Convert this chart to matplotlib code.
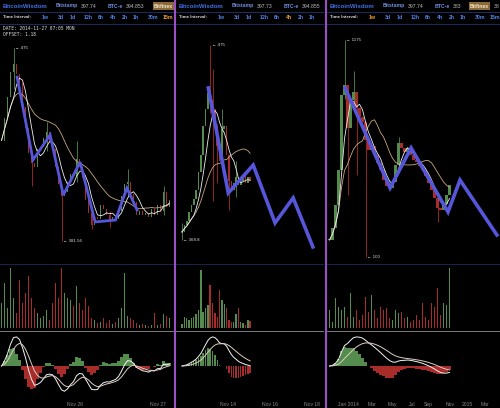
import numpy as np
import pandas as pd
import matplotlib
matplotlib.use('Agg')
import matplotlib.pyplot as plt

W, H = 500, 408

# ---- left panel: 15m candles ----
p1_close = [430, 441, 451, 463, 467, 462, 458, 446, 436, 424, 419, 417, 426, 427, 431, 434, 429, 426, 417, 409,
            403, 405, 410, 414, 413, 421, 417, 412, 401, 395, 389, 393, 392, 399, 397, 394, 391, 393, 392, 396,
            403, 409, 410, 404, 400, 394, 396, 394, 395, 393, 397, 394, 399, 396, 405, 398, 401]
p1_vol = [25, 45, 20, 60, 30, 15, 48, 25, 35, 52, 30, 20, 15, 10, 12, 18, 8, 25, 45, 30,
          60, 35, 30, 28, 22, 42, 25, 18, 30, 22, 10, 8, 5, 6, 10, 5, 8, 4, 6, 10,
          20, 55, 12, 10, 8, 5, 3, 4, 3, 2, 3, 15, 3, 4, 14, 12, 10]
p1_wick_idx = [4, 10, 15, 20, 25, 30, 36, 42, 54]
p1_wick_lo = [455, 408, 425, 381.56, 410, 387, 388, 403, 394]
p1_wick_hi = [475, 422, 439, 406, 430, 397, 396, 416, 408]
p1_zig_x = [5.2, 10.5, 16.2, 20.6, 26.2, 31.2, 38.0, 41.8, 45.2]
p1_zig_y = [460.7, 420.6, 432.7, 403.6, 419.6, 390.6, 391.5, 407.0, 396.4]
p1_ticks = [24.5, 52.2]
p1_ticklabels = ['Nov 26', 'Nov 27']

# ---- middle panel: 4h candles ----
p2_close = [373, 377, 379, 384, 388, 391, 396, 406, 415, 431, 440, 449, 445, 440, 431, 420, 412, 429, 431, 415,
            401, 396, 400, 403, 399, 401, 404, 400, 403, 401]
p2_vol = [4, 11, 10, 8, 10, 11, 14, 18, 58, 16, 20, 23, 43, 25, 15, 11, 38, 28, 24, 20,
          8, 6, 6, 14, 20, 6, 5, 3, 8, 7]
p2_wick_idx = [0, 12, 13, 15, 17, 20, 23]
p2_wick_lo = [368.8, 438, 390, 400, 408, 385, 392]
p2_wick_hi = [378, 475, 462, 432, 440, 410, 412]
p2_zig_x = [11.2, 19.7, 30.3, 39.6, 47.3, 55.7]
p2_zig_y = [451.6, 394.4, 409.6, 378.1, 391.7, 365.0]
p2_ticks = [19.6, 37.4, 55.3]
p2_ticklabels = ['Nov 14', 'Nov 16', 'Nov 18']

# ---- right panel: 1w candles ----
p3_close = [184, 243, 357, 531, 902, 952, 739, 878, 917, 838, 793, 769, 679, 630, 650, 605, 566, 531, 481, 452,
            442, 471, 556, 665, 640, 620, 640, 605, 580, 570, 551, 531, 501, 466, 432, 390, 341, 333, 362, 407,
            457]
p3_vol = [18, 6, 30, 21, 18, 21, 11, 35, 11, 18, 8, 13, 31, 16, 33, 18, 10, 21, 18, 20,
          10, 8, 18, 15, 16, 10, 11, 6, 8, 13, 8, 25, 11, 8, 25, 21, 40, 13, 25, 23,
          60]
p3_wick_idx = [5, 6, 8, 9, 12, 23, 36]
p3_wick_lo = [880, 407, 850, 506, 100, 600, 273]
p3_wick_hi = [1175, 760, 1020, 850, 700, 694, 345]
p3_zig_x = [5.2, 20.2, 27.2, 39.5, 43.5, 55.8]
p3_zig_y = [937, 442, 640, 323, 481, 209]
p3_ticks = [6.2, 14.2, 20.8, 27.5, 32.8, 40.2, 45.8, 51.8]
p3_ticklabels = ['Jan 2014', 'Mar', 'May', 'Jul', 'Sep', 'Nov', '2015', 'Mar']

intervals = ['1w', '3d', '1d', '12h', '6h', '4h', '2h', '1h', '30m', '15m']
interval_pos = [42, 58, 70, 84, 98, 110, 122, 133, 148, 163]

GREEN = '#538c4c'
RED = '#a82c2a'
BLUE = '#5656da'

plt.rcParams['font.family'] = ['Liberation Sans', 'DejaVu Sans']

panels = [
    dict(x0=0, w=174, ax_l=0, ax_w=173, cx0=1.5, step=3.0, ylim=(371.2, 485.9),
         close=p1_close, vol=p1_vol, wi=p1_wick_idx, wlo=p1_wick_lo, whi=p1_wick_hi,
         zx=p1_zig_x, zy=p1_zig_y, ticks=p1_ticks, tl=p1_ticklabels, ma=(5, 18), zlw=2.0,
         bw=0.65, vw=0.45, hw=1.0, spans=(6, 13, 5),
         hi_lab='\u2190 475', lo_lab='\u2190 381.56', active='15m',
         prices=('397.74', '394.853'), finex=154, extra=None, date=True),
    dict(x0=176, w=148, ax_l=177, ax_w=146, cx0=182, step=2.35, ylim=(356.8, 485.9),
         close=p2_close, vol=p2_vol, wi=p2_wick_idx, wlo=p2_wick_lo, whi=p2_wick_hi,
         zx=p2_zig_x, zy=p2_zig_y, ticks=p2_ticks, tl=p2_ticklabels, ma=(6, 20), zlw=2.6,
         bw=0.7, vw=0.6, hw=0.6, spans=(12, 26, 9),
         hi_lab='\u2190 475', lo_lab='\u2190 368.8', active='4h',
         prices=('397.73', '394.855'), finex=None, extra=None, date=False),
    dict(x0=327, w=173, ax_l=328, ax_w=172, cx0=329.5, step=3.0, ylim=(75, 1249),
         close=p3_close, vol=p3_vol, wi=p3_wick_idx, wlo=p3_wick_lo, whi=p3_wick_hi,
         zx=p3_zig_x, zy=p3_zig_y, ticks=p3_ticks, tl=p3_ticklabels, ma=(4, 12), zlw=2.6,
         bw=0.7, vw=0.65, hw=0.7, spans=(12, 26, 9),
         hi_lab='\u2190 1175', lo_lab='\u2190 100', active='1w',
         prices=('397.74', '383'), finex=143, extra='38', date=False),
]

fig = plt.figure(figsize=(W / 100, H / 100), dpi=100, facecolor='black')


def rect(x, y, w, h):
    return [x / W, 1 - (y + h) / H, w / W, h / H]


def blank(ax):
    ax.set_facecolor('black')
    for s in ax.spines.values():
        s.set_visible(False)
    ax.set_xticks([])
    ax.set_yticks([])


for p in panels:
    x0, w = p['x0'], p['w']
    close = p['close']
    n = len(close)
    idx = np.arange(n)
    opens = [close[0]] + close[:-1]
    cols = [GREEN if c >= o else RED for o, c in zip(opens, close)]
    xl = ((p['ax_l'] - p['cx0']) / p['step'], (p['ax_l'] + p['ax_w'] - p['cx0']) / p['step'])

    # background / header
    bg = fig.add_axes(rect(x0, 0, w, H))
    blank(bg)
    bg.set_xlim(0, w)
    bg.set_ylim(H, 0)
    fs = 3.7
    bg.text(3, 6, 'BitcoinWisdom', color='#3f6fe6', fontsize=4.4, fontweight='bold', va='center')
    bg.text(56, 6, 'Bitstamp', color='#6f90dc', fontsize=fs, fontweight='bold', va='center')
    bg.text(81, 6, p['prices'][0], color='#bdbdbd', fontsize=fs, va='center')
    bg.text(108, 6, 'BTC-e', color='#6f90dc', fontsize=fs, fontweight='bold', va='center')
    bg.text(126, 6, p['prices'][1], color='#bdbdbd', fontsize=fs, va='center', clip_on=True)
    if p['finex']:
        bg.text(p['finex'], 6, 'Bitfinex', color='#f4e6c8', fontsize=fs, fontweight='bold', va='center',
                clip_on=True, bbox=dict(boxstyle='square,pad=0.2', fc='#8a6a3a', ec='none'))
    if p['extra']:
        bg.text(167, 6, p['extra'], color='#bdbdbd', fontsize=fs, va='center', clip_on=True)
    bg.text(3, 17.5, 'Time Interval:', color='#d8d8d8', fontsize=3.2, fontweight='bold', va='center')
    for lab, xp in zip(intervals, interval_pos):
        if xp >= w - 2:
            continue
        c = '#f0a030' if lab == p['active'] else '#4f86e8'
        bg.text(xp, 17.5, lab, color=c, fontsize=fs, fontweight='bold', va='center', clip_on=True)
    bg.plot([0, w], [12, 12], color='#1c2a58', lw=0.8)
    bg.plot([0, w], [23.5, 23.5], color='#1c2a58', lw=0.8)
    bg.plot([0, w], [263.5, 263.5], color='#1c2a58', lw=0.6)
    bg.plot([0, w], [331, 331], color='#7a7a7a', lw=0.7)
    if p['date']:
        bg.text(3, 28.5, 'DATE: 2014-11-27 07:05 MON', color='#dddddd', fontsize=3.3,
                family='DejaVu Sans Mono', va='center')
        bg.text(3, 34.5, 'OFFSET: 1.18', color='#dddddd', fontsize=3.3,
                family='DejaVu Sans Mono', va='center')

    # price
    ax = fig.add_axes(rect(p['ax_l'], 25, p['ax_w'], 237))
    blank(ax)
    ax.patch.set_alpha(0)
    ax.set_xlim(*xl)
    ax.set_ylim(*p['ylim'])
    for i, lo, hi in zip(p['wi'], p['wlo'], p['whi']):
        ax.vlines(i, lo, hi, color=cols[i], lw=0.6, zorder=2)
    body = [max(abs(c - o), (p['ylim'][1] - p['ylim'][0]) * 0.006) for o, c in zip(opens, close)]
    ax.bar(idx, body, bottom=np.minimum(opens, close), width=p['bw'], color=cols, zorder=3)
    s = pd.Series(close, dtype=float)
    ax.plot(idx, s.rolling(p['ma'][1], min_periods=1).mean(), color='#c9a77c', lw=0.6, zorder=4)
    ax.plot(idx, s.rolling(p['ma'][0], min_periods=1).mean(), color='#eeeeee', lw=0.6, zorder=4)
    ax.plot(p['zx'], p['zy'], color=BLUE, lw=p['zlw'], solid_joinstyle='miter', zorder=5)
    k = int(np.argmax(p['whi']))
    ax.text(p['wi'][k] + 0.6, p['whi'][k], p['hi_lab'], color='#dddddd', fontsize=3.2, va='center')
    k = int(np.argmin(p['wlo']))
    ax.text(p['wi'][k] + 0.6, p['wlo'][k], p['lo_lab'], color='#dddddd', fontsize=3.2, va='center')

    # volume
    av = fig.add_axes(rect(p['ax_l'], 265, p['ax_w'], 63))
    blank(av)
    av.patch.set_alpha(0)
    av.set_xlim(*xl)
    av.set_ylim(0, 63)
    av.bar(idx, p['vol'], width=p['vw'], color=cols)

    # macd
    am = fig.add_axes(rect(p['ax_l'], 334, p['ax_w'], 64))
    blank(am)
    am.patch.set_alpha(0)
    am.set_xlim(*xl)
    fast, slow, sig = p['spans']
    dif = s.ewm(span=fast, adjust=False).mean() - s.ewm(span=slow, adjust=False).mean()
    dea = dif.ewm(span=sig, adjust=False).mean()
    hist = 1.5 * (dif - dea)
    m = max(dif.abs().max(), dea.abs().max(), hist.abs().max()) * 1.1
    am.set_ylim(-m, m)
    am.bar(idx, hist, width=p['hw'], color=[GREEN if v >= 0 else RED for v in hist])
    am.plot(idx, dif, color='#f4f4f4', lw=0.7)
    am.plot(idx, dea, color='#dccbc2', lw=0.7)
    am.set_xticks(p['ticks'])
    am.set_xticklabels(p['tl'], color='#8a8a8a', fontsize=3.6)
    am.tick_params(length=0, pad=3)

# purple dividers
top = fig.add_axes([0, 0, 1, 1])
top.set_xlim(0, W)
top.set_ylim(H, 0)
top.axis('off')
for xd in [175, 325.5]:
    top.plot([xd, xd], [0, H], color='#9a4fc4', lw=1.5)

fig.savefig('out.png', dpi=100, facecolor='black')
